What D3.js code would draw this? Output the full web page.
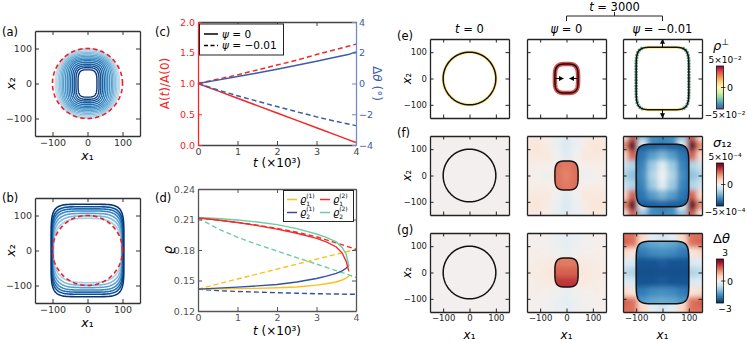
<!DOCTYPE html>
<html>
<head>
<meta charset="utf-8">
<script src="https://cdn.jsdelivr.net/npm/d3@7"></script>
<style>
  body { margin: 0; background: #fff; }
  svg { display: block; font-family: "DejaVu Sans", sans-serif; }
</style>
</head>
<body>
<script>
// ---------- data ----------
// (a) shrinking contours, inner -> outer: half-width, half-height, squareness
var contourAw = [27, 33, 38, 43, 48, 53, 58, 63, 68, 72, 76, 80, 84, 88, 92];
var contourAh = [39, 45, 50, 55, 60, 65, 69, 73, 77, 81, 85, 89, 93, 97, 100];
var contourAn = [3.6, 3.5, 3.4, 3.3, 3.2, 3.1, 3.0, 2.9, 2.8, 2.7, 2.6, 2.5, 2.4, 2.3, 2.2];
// (b) growing contours, inner -> outer
var contourBw = [97, 98, 99, 100, 101, 102, 104];
var contourBh = [92, 99, 106, 113, 119, 125, 132];
var contourBn = [3, 3.5, 4, 4.5, 5, 5.5, 6];
var initialRadius = 100;

// (c)
var tC = [0, 0.5, 1, 1.5, 2, 2.5, 3, 3.5, 3.8, 4];
var areaPsi0 = [1, 0.88, 0.76, 0.64, 0.52, 0.40, 0.28, 0.16, 0.088, 0.04];
var areaPsiNeg = [1, 1.07, 1.14, 1.22, 1.30, 1.38, 1.47, 1.555, 1.605, 1.64];
var thetaPsi0 = [0, 0.22, 0.45, 0.68, 0.93, 1.18, 1.44, 1.72, 1.88, 2.05];
var thetaPsiNeg = [0, -0.42, -0.8, -1.15, -1.5, -1.84, -2.17, -2.47, -2.63, -2.74];

// (d)
var tSolid = [0, 0.5, 1, 1.5, 2, 2.5, 3, 3.25, 3.5, 3.65, 3.75, 3.82];
var rho11 = [0.1415, 0.1418, 0.1420, 0.1423, 0.1428, 0.1436, 0.1455, 0.1468, 0.1485, 0.1505, 0.1522, 0.1545];
var rho21 = [0.1415, 0.1425, 0.1435, 0.1447, 0.1460, 0.1485, 0.1520, 0.1543, 0.1570, 0.1595, 0.1620, 0.1650];
var rho12 = [0.2115, 0.2095, 0.2070, 0.2040, 0.2005, 0.1965, 0.1915, 0.1880, 0.1830, 0.1770, 0.1690, 0.1590];
var rho22 = [0.2120, 0.2110, 0.2095, 0.2075, 0.2050, 0.2010, 0.1957, 0.1925, 0.1880, 0.1825, 0.1760, 0.1640];
var tDash = [0, 0.5, 1, 1.5, 2, 2.5, 3, 3.5, 4];
var rho11Neg = [0.1415, 0.1465, 0.1515, 0.1563, 0.1612, 0.1660, 0.1710, 0.1758, 0.1807];
var rho21Neg = [0.1415, 0.1400, 0.1392, 0.1386, 0.1380, 0.1375, 0.1370, 0.1367, 0.1364];
var rho12Neg = [0.2115, 0.2095, 0.2072, 0.2045, 0.2012, 0.1975, 0.1930, 0.1870, 0.1807];
var rho22Neg = [0.2115, 0.2010, 0.1925, 0.1855, 0.1790, 0.1725, 0.1662, 0.1597, 0.1531];

// (e)-(g) columns: t=0, psi=0, psi=-0.01 ; boundary shape half-width, half-height, squareness
var colTitles = ["t = 0", "ψ = 0", "ψ = −0.01"];
var shapeA = [100, 44, 100];
var shapeB = [100, 55, 119];
var shapeN = [2, 3.5, 6];
var rhoPerp = [0.12, 0.75, 0.08];    // normalised rho_perp on the boundary
var rhoSides = [0.12, 0.75, -0.7];   // on the vertical sides

// fields on nodes x2 = 150,112.5,75,37.5,0 (rows, top down) x x1 = 0..150 (cols), mirrored
var sigmaOuterPsi0 = [
  [-0.12, -0.06, 0.06, 0.10, 0.08],
  [-0.14, -0.06, 0.08, 0.12, 0.10],
  [-0.12, -0.02, 0.10, 0.10, 0.08],
  [0.12, 0.05, 0.04, 0.05, 0.05],
  [0.15, 0.10, -0.04, 0.02, 0.04]];
var sigmaInnerPsi0 = [
  [0.58, 0.58, 0.58, 0.58, 0.58],
  [0.58, 0.58, 0.58, 0.58, 0.58],
  [0.58, 0.58, 0.60, 0.60, 0.60],
  [0.52, 0.56, 0.60, 0.60, 0.60],
  [0.50, 0.55, 0.60, 0.60, 0.60]];
var sigmaOuterPsiNeg = [
  [-0.65, -0.62, -0.40, 0.60, 0.05],
  [-0.70, -0.65, -0.10, 1.00, 0.45],
  [-0.60, -0.60, -0.50, 0.60, 0.15],
  [-0.50, -0.50, -0.50, -0.30, -0.20],
  [-0.50, -0.50, -0.50, -0.40, -0.30]];
var sigmaInnerPsiNeg = [
  [-0.82, -0.82, -0.82, -0.82, -0.82],
  [-0.80, -0.82, -0.82, -0.84, -0.84],
  [-0.46, -0.56, -0.72, -0.84, -0.84],
  [-0.12, -0.36, -0.66, -0.82, -0.82],
  [-0.02, -0.30, -0.62, -0.82, -0.82]];
var thetaOuterPsi0 = [
  [-0.08, -0.05, 0.00, 0.02, 0.02],
  [-0.09, -0.05, 0.00, 0.02, 0.02],
  [-0.07, -0.03, 0.03, 0.04, 0.03],
  [0.12, 0.10, 0.08, 0.06, 0.05],
  [0.15, 0.12, 0.10, 0.07, 0.06]];
var thetaInnerPsi0 = [   // full 9 rows, x2 = 150 .. -150
  [0.50, 0.50, 0.50, 0.50, 0.50],
  [0.50, 0.50, 0.50, 0.50, 0.50],
  [0.50, 0.50, 0.50, 0.50, 0.50],
  [0.52, 0.53, 0.55, 0.55, 0.55],
  [0.60, 0.60, 0.62, 0.62, 0.62],
  [0.72, 0.72, 0.74, 0.74, 0.74],
  [0.78, 0.78, 0.78, 0.78, 0.78],
  [0.78, 0.78, 0.78, 0.78, 0.78],
  [0.78, 0.78, 0.78, 0.78, 0.78]];
var thetaOuterPsiNeg = [
  [-0.15, -0.10, 0.20, 0.55, 0.55],
  [-0.20, -0.12, 0.15, 0.55, 0.60],
  [-0.35, -0.35, -0.15, 0.12, 0.18],
  [-0.45, -0.45, -0.35, -0.15, -0.12],
  [-0.50, -0.50, -0.45, -0.30, -0.25]];
var thetaInnerPsiNeg = [
  [-0.50, -0.50, -0.55, -0.60, -0.60],
  [-0.50, -0.52, -0.58, -0.62, -0.62],
  [-0.62, -0.64, -0.70, -0.76, -0.76],
  [-0.84, -0.86, -0.86, -0.88, -0.88],
  [-0.88, -0.88, -0.88, -0.90, -0.90]];

var cbarTop = ["5×10⁻²", "5×10⁻⁴", "3"];
var cbarBottom = ["−5×10⁻²", "−5×10⁻⁴", "−3"];

// ---------- helpers ----------
var svg = d3.select("body").append("svg").attr("width", 747).attr("height", 343);
var defs = svg.append("defs");
defs.append("filter").attr("id", "soft").attr("x", "-20%").attr("y", "-20%")
  .attr("width", "140%").attr("height", "140%")
  .append("feGaussianBlur").attr("stdDeviation", 2.6);
defs.append("marker").attr("id", "head").attr("viewBox", "0 0 10 10").attr("refX", 9).attr("refY", 5)
  .attr("markerWidth", 5).attr("markerHeight", 5).attr("markerUnits", "userSpaceOnUse")
  .attr("orient", "auto")
  .append("path").attr("d", "M0,0L10,5L0,10z").attr("fill", "#000");

function rdbu(v) { return d3.interpolateRdBu((1 - v) / 2); }
function spec(v) { return d3.interpolateSpectral((1 - v) / 2); }

function superPts(a, b, n) {
  return d3.range(0, 2 * Math.PI, Math.PI / 90).map(function (th) {
    var c = Math.cos(th), s = Math.sin(th);
    return [a * Math.sign(c) * Math.pow(Math.abs(c), 2 / n),
            b * Math.sign(s) * Math.pow(Math.abs(s), 2 / n)];
  });
}

function txt(x, y, html, o) {
  o = o || {};
  var t = svg.append("text").attr("x", x).attr("y", y).attr("font-size", o.fs || 11)
    .attr("text-anchor", o.anchor || "start").attr("fill", o.color || "#000").html(html);
  if (o.rot) t.attr("transform", "rotate(" + o.rot + "," + x + "," + y + ")");
  return t;
}
function it(s) { return "<tspan font-style='italic'>" + s + "</tspan>"; }

var none = function () { return ""; };
var intFmt = d3.format("d");
function addAxis(g, gen, tx, ty, color, fs) {
  var a = g.append("g").attr("transform", "translate(" + tx + "," + ty + ")").call(gen)
    .attr("font-family", "DejaVu Sans").attr("font-size", fs);
  a.select(".domain").attr("stroke", color).attr("stroke-width", 1.3);
  a.selectAll(".tick line").attr("stroke", color);
  a.selectAll(".tick text").attr("fill", color);
  return a;
}
function boxAxes(g, sx, sy, o) {
  var x0 = sx.range()[0], x1 = sx.range()[1], yb = sy.range()[0], yt = sy.range()[1];
  addAxis(g, d3.axisBottom(sx).tickValues(o.xt).tickSize(-o.tl).tickSizeOuter(0).tickPadding(o.pad)
    .tickFormat(o.xl ? (o.xf || intFmt) : none), 0, yb, o.c, o.fs);
  addAxis(g, d3.axisTop(sx).tickValues(o.xt).tickSize(-o.tl).tickSizeOuter(0).tickFormat(none),
    0, yt, o.c, o.fs);
  addAxis(g, d3.axisLeft(sy).tickValues(o.yt).tickSize(-o.tl).tickSizeOuter(0).tickPadding(o.pad)
    .tickFormat(o.yl ? (o.yf || intFmt) : none), x0, 0, o.c, o.fs);
  addAxis(g, d3.axisRight(sy).tickValues(o.yt).tickSize(-o.tl).tickSizeOuter(0).tickFormat(none),
    x1, 0, o.c, o.fs);
}

// ---------- (a), (b) ----------
function contourPanel(y0, ws, hs, ns, cFrom, cTo, lw) {
  var sx = d3.scaleLinear([-150, 150], [35, 140]);
  var sy = d3.scaleLinear([-150, 150], [y0 + 105, y0]);
  var line = d3.line().x(function (d) { return sx(d[0]); }).y(function (d) { return sy(d[1]); })
    .curve(d3.curveLinearClosed);
  var g = svg.append("g");
  ws.forEach(function (w, k) {
    var f = k / (ws.length - 1);
    g.append("path").attr("d", line(superPts(w, hs[k], ns[k]))).attr("fill", "none")
      .attr("stroke", d3.interpolateBlues(cFrom + (cTo - cFrom) * f)).attr("stroke-width", lw);
  });
  g.append("path").attr("d", line(superPts(initialRadius, initialRadius, 2))).attr("fill", "none")
    .attr("stroke", "#f41c1c").attr("stroke-width", 1.6).attr("stroke-dasharray", "4.5,3");
  boxAxes(g, sx, sy, {xt: [-100, 0, 100], yt: [-100, 0, 100], xl: true, yl: true,
    tl: 4, pad: 3, fs: 9.5, c: "#333"});
}
contourPanel(31, contourAw, contourAh, contourAn, 0.98, 0.25, 1.4);
contourPanel(198, contourBw, contourBh, contourBn, 0.35, 0.98, 1.6);
txt(2, 36, "(a)", {fs: 11.5});
txt(2, 202, "(b)", {fs: 11.5});
txt(87.5, 160, it("x") + "₁", {fs: 12.5, anchor: "middle"});
txt(87.5, 327, it("x") + "₁", {fs: 12.5, anchor: "middle"});
txt(15, 83.5, it("x") + "₂", {fs: 12.5, anchor: "middle", rot: -90});
txt(15, 250.5, it("x") + "₂", {fs: 12.5, anchor: "middle", rot: -90});

// ---------- (c) ----------
var RED = "#f42626", BLUE = "#3b5ca8";
(function () {
  var g = svg.append("g");
  var cx = d3.scaleLinear([0, 4], [198, 356]);
  var cyA = d3.scaleLinear([0, 2], [145, 22]);
  var cyT = d3.scaleLinear([-4, 4], [145, 22]);
  function ln(ys, sc) {
    return d3.line().x(function (d, i) { return cx(tC[i]); }).y(function (d) { return sc(d); })(ys);
  }
  g.append("path").attr("d", ln(areaPsi0, cyA)).attr("stroke", RED);
  g.append("path").attr("d", ln(areaPsiNeg, cyA)).attr("stroke", RED).attr("stroke-dasharray", "5,3");
  g.append("path").attr("d", ln(thetaPsi0, cyT)).attr("stroke", BLUE);
  g.append("path").attr("d", ln(thetaPsiNeg, cyT)).attr("stroke", BLUE).attr("stroke-dasharray", "5,3");
  g.selectAll("path").attr("fill", "none").attr("stroke-width", 1.5);

  addAxis(g, d3.axisBottom(cx).tickValues([0, 1, 2, 3, 4]).tickSize(-4).tickSizeOuter(0).tickPadding(3)
    .tickFormat(intFmt), 0, 145, "#444", 9.5);
  addAxis(g, d3.axisTop(cx).tickValues([0, 1, 2, 3, 4]).tickSize(-4).tickSizeOuter(0).tickFormat(none),
    0, 22, "#444", 9.5);
  addAxis(g, d3.axisLeft(cyA).tickValues([0, 0.5, 1, 1.5, 2]).tickSize(-4).tickSizeOuter(0)
    .tickPadding(3).tickFormat(d3.format(".1f")), 198, 0, RED, 9.5);
  addAxis(g, d3.axisRight(cyT).tickValues([-4, -2, 0, 2, 4]).tickSize(-4).tickSizeOuter(0)
    .tickPadding(3).tickFormat(intFmt), 356, 0, "#6f8cc6", 9.5).selectAll(".tick text").attr("fill", BLUE);

  g.append("rect").attr("x", 199.5).attr("y", 24).attr("width", 84).attr("height", 31)
    .attr("fill", "#fff").attr("stroke", "#222").attr("stroke-width", 1);
  g.append("line").attr("x1", 204).attr("x2", 218).attr("y1", 34).attr("y2", 34)
    .attr("stroke", "#000").attr("stroke-width", 1.5);
  g.append("line").attr("x1", 204).attr("x2", 218).attr("y1", 45.5).attr("y2", 45.5)
    .attr("stroke", "#000").attr("stroke-width", 1.5).attr("stroke-dasharray", "4,2.5");
})();
txt(222, 37.5, it("ψ") + " = 0", {fs: 10.5});
txt(222, 49, it("ψ") + " = −0.01", {fs: 10.5});
txt(155, 36, "(c)", {fs: 11.5});
txt(169, 83.5, "A(" + it("t") + ")/A(0)", {fs: 12, anchor: "middle", rot: -90, color: RED});
txt(373, 83.5, "Δ" + it("θ") + " (°)", {fs: 12, anchor: "middle", rot: 90, color: BLUE});
txt(277, 167, it("t") + " (×10³)", {fs: 12, anchor: "middle"});

// ---------- (d) ----------
var YEL = "#ffbf16", RD = "#f52a2a", BL = "#2f52a4", GR = "#6dcca6";
(function () {
  var g = svg.append("g");
  var dx = d3.scaleLinear([0, 4], [198, 356]);
  var dy = d3.scaleLinear([0.12, 0.24], [311, 189]);
  function ln(ts, ys) {
    return d3.line().x(function (d, i) { return dx(ts[i]); }).y(function (d) { return dy(d); })(ys);
  }
  [[rho11Neg, YEL], [rho21Neg, BL], [rho12Neg, RD], [rho22Neg, GR]].forEach(function (s) {
    g.append("path").attr("d", ln(tDash, s[0])).attr("stroke", s[1]).attr("stroke-dasharray", "5,3");
  });
  [[rho11, YEL], [rho21, BL], [rho22, GR], [rho12, RD]].forEach(function (s) {
    g.append("path").attr("d", ln(tSolid, s[0])).attr("stroke", s[1]);
  });
  g.selectAll("path").attr("fill", "none").attr("stroke-width", 1.4);
  boxAxes(g, dx, dy, {xt: [0, 1, 2, 3, 4], yt: [0.12, 0.15, 0.18, 0.21, 0.24], xl: true, yl: true,
    yf: d3.format(".2f"), tl: 4, pad: 3, fs: 9.5, c: "#555"});

  g.append("rect").attr("x", 283.5).attr("y", 190.5).attr("width", 70).attr("height", 31)
    .attr("fill", "#fff").attr("stroke", "#222").attr("stroke-width", 1);
  [[287, 199.5, YEL], [287, 212.5, BL], [320, 199.5, RD], [320, 212.5, GR]].forEach(function (e) {
    g.append("line").attr("x1", e[0]).attr("x2", e[0] + 10).attr("y1", e[1]).attr("y2", e[1])
      .attr("stroke", e[2]).attr("stroke-width", 1.5);
  });
})();
function rhoLabel(x, y, sub, sup, fs) {
  var t = svg.append("text").attr("x", x).attr("y", y).attr("font-size", fs);
  t.append("tspan").attr("font-style", "italic").text("ϱ");
  t.append("tspan").attr("font-size", fs * 0.6).attr("dy", fs * 0.3).text(sub);
  svg.append("text").attr("x", x + fs * 0.62).attr("y", y - fs * 0.42).attr("font-size", fs * 0.6)
    .text("(" + sup + ")");
}
rhoLabel(300, 202.5, "1", "1", 10);
rhoLabel(300, 215.5, "2", "1", 10);
rhoLabel(333, 202.5, "1", "2", 10);
rhoLabel(333, 215.5, "2", "2", 10);
txt(155, 202, "(d)", {fs: 11.5});
txt(172, 250, it("ϱ"), {fs: 13, anchor: "middle", rot: -90});
txt(277, 335, it("t") + " (×10³)", {fs: 12, anchor: "middle"});

// ---------- (e)-(g) ----------
var colX0 = [430, 527, 623], rowY0 = [39, 136, 233], PS = 79;
var fieldGrids = [
  null,
  [null, [sigmaOuterPsi0, sigmaInnerPsi0], [sigmaOuterPsiNeg, sigmaInnerPsiNeg]],
  [null, [thetaOuterPsi0, thetaInnerPsi0], [thetaOuterPsiNeg, thetaInnerPsiNeg]]];
var nodeY = [150, 112.5, 75, 37.5, 0, -37.5, -75, -112.5, -150];
var nodeX = [-150, -112.5, -75, -37.5, 0, 37.5, 75, 112.5, 150];

function expandGrid(q) {
  var rows = q.length === 5 ? q.concat(q.slice(0, 4).reverse()) : q;
  var cells = [];
  rows.forEach(function (r, i) {
    r.slice(1).reverse().concat(r).forEach(function (v, j) {
      cells.push({x: nodeX[j], y: nodeY[i], v: v});
    });
  });
  return cells;
}

function drawField(g, grid, clipId, sx, sy) {
  var h = 18.75, ext = 45;
  function lo(d, k) { return d[k] - h - (d[k] === -150 ? ext : 0); }
  function hi(d, k) { return d[k] + h + (d[k] === 150 ? ext : 0); }
  g.append("g").attr("clip-path", "url(#" + clipId + ")")
    .append("g").attr("filter", "url(#soft)")
    .selectAll("rect").data(expandGrid(grid)).join("rect")
    .attr("x", function (d) { return sx(lo(d, "x")) - 0.3; })
    .attr("width", function (d) { return sx(hi(d, "x")) - sx(lo(d, "x")) + 0.6; })
    .attr("y", function (d) { return sy(hi(d, "y")) - 0.3; })
    .attr("height", function (d) { return sy(lo(d, "y")) - sy(hi(d, "y")) + 0.6; })
    .attr("fill", function (d) { return rdbu(d.v); });
}

rowY0.forEach(function (y0, r) {
  colX0.forEach(function (x0, c) {
    var id = "p" + r + c;
    var sx = d3.scaleLinear([-150, 150], [x0, x0 + PS]);
    var sy = d3.scaleLinear([-150, 150], [y0 + PS, y0]);
    var line = d3.line().x(function (d) { return sx(d[0]); }).y(function (d) { return sy(d[1]); })
      .curve(d3.curveLinearClosed);
    var shapePath = line(superPts(shapeA[c], shapeB[c], shapeN[c]));
    defs.append("clipPath").attr("id", "box" + id).append("rect")
      .attr("x", x0).attr("y", y0).attr("width", PS).attr("height", PS);
    defs.append("clipPath").attr("id", "in" + id).append("path").attr("d", shapePath);
    var g = svg.append("g");

    if (r === 0) {
      g.append("rect").attr("x", x0).attr("y", y0).attr("width", PS).attr("height", PS).attr("fill", "#fff");
      g.append("path").attr("d", shapePath).attr("fill", "none")
        .attr("stroke", spec(rhoPerp[c])).attr("stroke-width", c === 1 ? 4.5 : 3.5);
      if (rhoSides[c] !== rhoPerp[c]) {
        var cs = defs.append("clipPath").attr("id", "side" + id);
        cs.append("rect").attr("x", x0).attr("y", y0).attr("width", sx(-75) - x0).attr("height", PS);
        cs.append("rect").attr("x", sx(75)).attr("y", y0).attr("width", x0 + PS - sx(75)).attr("height", PS);
        g.append("path").attr("d", shapePath).attr("fill", "none").attr("clip-path", "url(#side" + id + ")")
          .attr("stroke", spec(rhoSides[c])).attr("stroke-width", 3.5).attr("stroke-dasharray", "1.8,1");
      }
    } else if (!fieldGrids[r][c]) {
      g.append("rect").attr("x", x0).attr("y", y0).attr("width", PS).attr("height", PS).attr("fill", rdbu(0));
    } else {
      drawField(g, fieldGrids[r][c][0], "box" + id, sx, sy);
      drawField(g, fieldGrids[r][c][1], "in" + id, sx, sy);
    }
    g.append("path").attr("d", shapePath).attr("fill", "none").attr("stroke", "#111").attr("stroke-width", 1.5);

    if (r === 0 && c > 0) {
      var arr = c === 1
        ? [[-shapeA[c], 0, -12, 0], [shapeA[c], 0, 12, 0]]
        : [[0, shapeB[c], 0, 149], [0, -shapeB[c], 0, -149]];
      arr.forEach(function (a) {
        g.append("line").attr("x1", sx(a[0])).attr("y1", sy(a[1])).attr("x2", sx(a[2])).attr("y2", sy(a[3]))
          .attr("stroke", "#000").attr("stroke-width", 1).attr("marker-end", "url(#head)");
      });
    }
    boxAxes(g, sx, sy, {xt: [-100, 0, 100], yt: [-100, 0, 100], xl: r === 2, yl: c === 0,
      tl: 3.5, pad: 3, fs: 8.5, c: "#222"});
  });
  txt(411, y0 + PS / 2, it("x") + "₂", {fs: 11.5, anchor: "middle", rot: -90});
});
colX0.forEach(function (x0, c) {
  txt(x0 + PS / 2, 33, c === 0 ? it("t") + " = 0" : it("ψ") + colTitles[c].slice(1), {fs: 11.5, anchor: "middle"});
  txt(x0 + PS / 2, 339, it("x") + "₁", {fs: 12, anchor: "middle"});
});
var m1 = colX0[1] + PS / 2, m2 = colX0[2] + PS / 2, mm = (m1 + m2) / 2;
svg.append("path").attr("d", "M" + m1 + ",21V16H" + m2 + "V21M" + mm + ",16V12")
  .attr("fill", "none").attr("stroke", "#222").attr("stroke-width", 1);
txt(mm, 11, it("t") + " = 3000", {fs: 11.5, anchor: "middle"});
txt(397, 40, "(e)", {fs: 11.5});
txt(397, 137, "(f)", {fs: 11.5});
txt(397, 234, "(g)", {fs: 11.5});

// colour bars
var cbarY = [[66, 109], [163, 206], [259, 303]];
cbarY.forEach(function (yy, r) {
  var interp = r === 0 ? d3.interpolateSpectral : d3.interpolateRdBu;
  var grad = defs.append("linearGradient").attr("id", "cb" + r)
    .attr("x1", 0).attr("y1", 0).attr("x2", 0).attr("y2", 1);
  d3.range(0, 1.0001, 0.1).forEach(function (s) {
    grad.append("stop").attr("offset", s).attr("stop-color", interp(s));
  });
  svg.append("rect").attr("x", 716.5).attr("y", yy[0]).attr("width", 7).attr("height", yy[1] - yy[0])
    .attr("fill", "url(#cb" + r + ")").attr("stroke", "#111").attr("stroke-width", 0.8);
  var mid = (yy[0] + yy[1]) / 2;
  svg.append("line").attr("x1", 721).attr("x2", 725.5).attr("y1", mid).attr("y2", mid)
    .attr("stroke", "#111").attr("stroke-width", 0.8);
  txt(727, mid + 3.5, "0", {fs: 9.5});
  txt(725, yy[0] - 3, cbarTop[r], {fs: 9, anchor: "middle"});
  txt(725, yy[1] + 9, cbarBottom[r], {fs: 9, anchor: "middle"});
});
txt(713, 50, it("ρ") + "<tspan dy='-5' font-size='9'>⊥</tspan>", {fs: 13});
txt(713, 147, it("σ") + "₁₂", {fs: 13});
txt(713, 243, "Δ" + it("θ"), {fs: 13});
</script>
</body>
</html>
